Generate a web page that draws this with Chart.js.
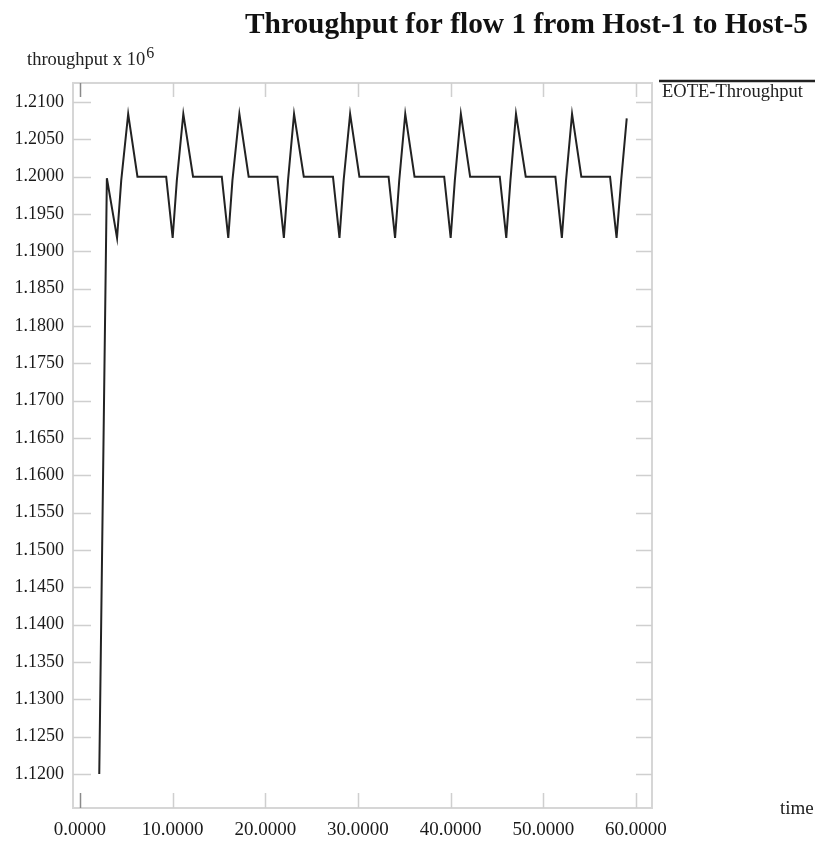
<!DOCTYPE html>
<html>
<head>
<meta charset="utf-8">
<script src="https://cdn.jsdelivr.net/npm/chart.js@4.4.1/dist/chart.umd.min.js"></script>
<style>
html, body { margin: 0; padding: 0; background: #ffffff; }
#wrap { width: 815px; height: 844px; position: relative; }
</style>
</head>
<body>
<div id="wrap"><canvas id="c" width="815" height="844"></canvas></div>
<script>
// ---- data ----
const chartTitle = 'Throughput for flow 1 from Host-1 to Host-5';
const seriesName = 'EOTE-Throughput';
const yAxisLabel = 'throughput x 10';
const yAxisExponent = '6';
const xAxisLabel = 'time';

const timeValues = [
  2.08, 2.9,
  4.0, 4.45, 5.2, 6.2, 9.3,
  10.0, 10.45, 11.15, 12.2, 15.3,
  16.0, 16.45, 17.2, 18.2, 21.3,
  22.0, 22.45, 23.1, 24.15, 27.3,
  28.0, 28.45, 29.15, 30.15, 33.3,
  34.0, 34.45, 35.1, 36.1, 39.3,
  40.0, 40.45, 41.1, 42.1, 45.3,
  46.0, 46.45, 47.05, 48.1, 51.3,
  52.0, 52.45, 53.1, 54.1, 57.2,
  57.9, 58.4, 59.0
];
const throughputValues = [
  1.1200, 1.1998,
  1.1918, 1.1995, 1.2084, 1.2000, 1.2000,
  1.1918, 1.1995, 1.2084, 1.2000, 1.2000,
  1.1918, 1.1995, 1.2084, 1.2000, 1.2000,
  1.1918, 1.1995, 1.2084, 1.2000, 1.2000,
  1.1918, 1.1995, 1.2084, 1.2000, 1.2000,
  1.1918, 1.1995, 1.2084, 1.2000, 1.2000,
  1.1918, 1.1995, 1.2084, 1.2000, 1.2000,
  1.1918, 1.1995, 1.2084, 1.2000, 1.2000,
  1.1918, 1.1995, 1.2084, 1.2000, 1.2000,
  1.1918, 1.1995, 1.2078
];
const xTickValues = [0, 10, 20, 30, 40, 50, 60];
const yTickValues = [
  1.1200, 1.1250, 1.1300, 1.1350, 1.1400, 1.1450, 1.1500, 1.1550, 1.1600,
  1.1650, 1.1700, 1.1750, 1.1800, 1.1850, 1.1900, 1.1950, 1.2000, 1.2050, 1.2100
];

// ---- chart ----
const SERIF = '"Liberation Serif", "Times New Roman", serif';
const points = timeValues.map((t, i) => ({ x: t, y: throughputValues[i] }));

const xgraphDecor = {
  id: 'xgraphDecor',
  beforeDatasetsDraw(chart) {
    const { ctx, chartArea: a, scales } = chart;
    const x = scales.x, y = scales.y;
    ctx.save();
    ctx.strokeStyle = '#d6d6d6';
    ctx.lineWidth = 2;
    ctx.strokeRect(a.left, a.top, a.right - a.left, a.bottom - a.top);
    ctx.lineWidth = 1.5;
    ctx.strokeStyle = '#cfcfcf';
    yTickValues.forEach(v => {
      const py = Math.round(y.getPixelForValue(v)) + 0.5;
      ctx.beginPath();
      ctx.moveTo(a.left, py); ctx.lineTo(a.left + 18, py);
      ctx.moveTo(a.right - 16, py); ctx.lineTo(a.right, py);
      ctx.stroke();
    });
    xTickValues.forEach(v => {
      const px = Math.round(x.getPixelForValue(v)) + 0.5;
      ctx.strokeStyle = v === 0 ? '#8a8a8a' : '#cfcfcf';
      ctx.beginPath();
      ctx.moveTo(px, a.bottom); ctx.lineTo(px, a.bottom - 15);
      ctx.moveTo(px, a.top); ctx.lineTo(px, a.top + 14);
      ctx.stroke();
    });
    ctx.restore();
  },
  afterDraw(chart) {
    const { ctx } = chart;
    const ds = chart.data.datasets[0];
    ctx.save();
    // legend (xgraph style: sample line above the label)
    ctx.strokeStyle = ds.borderColor;
    ctx.lineWidth = 2.5;
    ctx.beginPath();
    ctx.moveTo(659, 81); ctx.lineTo(815, 81);
    ctx.stroke();
    ctx.fillStyle = '#222';
    ctx.textBaseline = 'alphabetic';
    ctx.textAlign = 'left';
    ctx.font = '18.5px ' + SERIF;
    ctx.fillText(ds.label, 662, 97);
    // y axis label with exponent
    ctx.font = '18.5px ' + SERIF;
    ctx.fillText(yAxisLabel, 27, 65);
    const w = ctx.measureText(yAxisLabel).width;
    ctx.font = '16px ' + SERIF;
    ctx.fillText(yAxisExponent, 27 + w + 1, 58);
    // x axis label
    ctx.font = '19px ' + SERIF;
    ctx.fillText(xAxisLabel, 780, 814);
    ctx.restore();
  }
};

new Chart(document.getElementById('c'), {
  type: 'line',
  data: {
    datasets: [{
      label: seriesName,
      data: points,
      borderColor: '#222222',
      borderWidth: 2,
      pointRadius: 0,
      tension: 0,
      fill: false
    }]
  },
  options: {
    responsive: false,
    animation: false,
    devicePixelRatio: 1,
    layout: { padding: { top: 0, left: 0, right: 7, bottom: 0 } },
    plugins: {
      legend: { display: false },
      tooltip: { enabled: false },
      title: {
        display: true,
        text: chartTitle,
        align: 'end',
        color: '#111',
        font: { family: SERIF, size: 29.4, weight: 'bold' },
        padding: { top: 8, bottom: 39.7 }
      }
    },
    scales: {
      x: {
        type: 'linear',
        position: 'bottom',
        min: -0.755,
        max: 61.727,
        grid: { display: false, drawTicks: false },
        border: { display: false },
        afterBuildTicks: s => { s.ticks = xTickValues.map(v => ({ value: v })); },
        afterFit: s => { s.height = 36; },
        ticks: {
          autoSkip: false,
          maxRotation: 0,
          padding: 11,
          color: '#1a1a1a',
          font: { family: SERIF, size: 19 },
          callback: v => Number(v).toFixed(4)
        }
      },
      y: {
        type: 'linear',
        position: 'left',
        min: 1.11545,
        max: 1.21255,
        grid: { display: false, drawTicks: false },
        border: { display: false },
        afterBuildTicks: s => { s.ticks = yTickValues.map(v => ({ value: v })); },
        afterFit: s => { s.width = 73; },
        ticks: {
          autoSkip: false,
          padding: 9,
          color: '#1a1a1a',
          font: { family: SERIF, size: 18 },
          callback: v => Number(v).toFixed(4)
        }
      },
      yRight: {
        type: 'linear',
        position: 'right',
        display: true,
        grid: { display: false, drawTicks: false },
        border: { display: false },
        ticks: { display: false },
        afterFit: s => { s.width = 156; }
      }
    }
  },
  plugins: [xgraphDecor]
});
</script>
</body>
</html>
